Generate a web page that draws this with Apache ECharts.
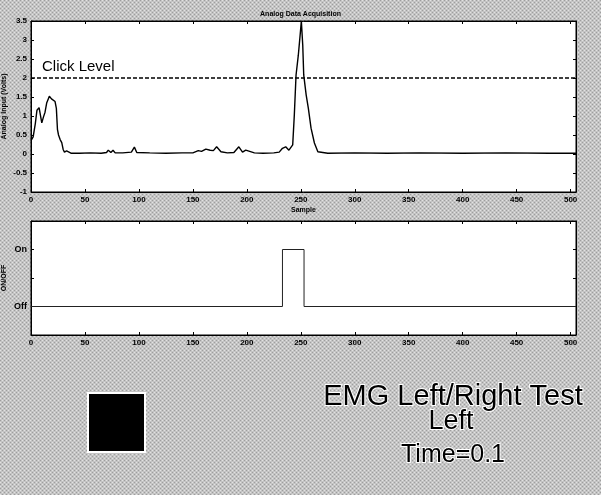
<!DOCTYPE html>
<html>
<head>
<meta charset="utf-8">
<script src="https://cdn.jsdelivr.net/npm/echarts@6/dist/echarts.min.js"></script>
<style>
  html, body { margin: 0; padding: 0; }
  #chart { width: 601px; height: 495px; }
</style>
</head>
<body>
<div id="chart"></div>
<script>
// analog input (sample, volts)
const sampleX = [0, 2, 4, 5.5, 7.5, 10, 11.5, 13, 14.6, 16, 17, 18, 19, 20.8, 22.3, 23.5, 24.5, 25.5, 27, 28.5,
  29.8, 31, 33, 34.5, 37, 45, 55, 65, 70, 71.6, 74, 76, 78, 85, 93, 95.8, 98, 110, 125, 140,
  150, 155, 158, 162, 166, 169, 172, 176, 182, 188, 192.6, 196, 199, 207, 215, 225, 230, 233, 236, 239,
  242.5, 244, 245.6, 247.7, 249.6, 250.5, 251.8, 252.7, 255, 257, 259.5, 262.6, 265.8, 275, 300, 330, 360, 400, 440, 480, 505];
const volts = [0.35, 0.45, 0.8, 1.15, 1.22, 0.82, 0.97, 1.1, 1.35, 1.45, 1.52, 1.5, 1.45, 1.5, 1.38, 1.2, 0.65, 0.5, 0.38, 0.3,
  0.12, 0.05, 0.08, 0.06, 0.02, 0.02, 0.03, 0.02, 0.04, 0.1, 0.04, 0.1, 0.03, 0.03, 0.05, 0.18, 0.04, 0.03, 0.02, 0.03,
  0.03, 0.09, 0.07, 0.13, 0.1, 0.09, 0.19, 0.06, 0.03, 0.04, 0.19, 0.05, 0.1, 0.03, 0.02, 0.03, 0.05, 0.15, 0.19, 0.1,
  0.24, 1.03, 2.08, 2.6, 3.2, 3.5, 2.87, 2.08, 1.55, 1.2, 0.68, 0.29, 0.06, 0.02, 0.03, 0.02, 0.03, 0.02, 0.03, 0.02, 0.02];
const clickLevel = 2;

// on/off state
const stateX = [0, 233, 233, 253, 253, 505];
const stateY = [0, 0, 1, 1, 0, 0];
const stateLabels = { '0': 'Off', '1': 'On' };

const xMax = 505;

// grainy grey backdrop like the scan
const pat = document.createElement('canvas');
pat.width = 4; pat.height = 4;
const pc = pat.getContext('2d');
pc.fillStyle = '#c4c4c4'; pc.fillRect(0, 0, 4, 4);
pc.fillStyle = '#9e9e9e'; pc.fillRect(0, 0, 1, 1); pc.fillRect(2, 2, 1, 1);
pc.fillStyle = '#e2e2e2'; pc.fillRect(2, 0, 1, 1); pc.fillRect(0, 2, 1, 1);

const chart = echarts.init(document.getElementById('chart'), null, { renderer: 'canvas' });

const font = 'Arial, "Liberation Sans", sans-serif';
const lbl = { color: '#000', fontSize: 8, fontFamily: font, fontWeight: 'bold' };
const nameStyle = { fontSize: 7, fontWeight: 'bold', color: '#000', fontFamily: font };
const tick = { show: true, inside: true, length: 3, lineStyle: { color: '#000' } };
const line = { show: true, onZero: false, lineStyle: { color: '#000', width: 1 } };

function xAx(grid, pos, labels) {
  return {
    type: 'value', gridIndex: grid, position: pos, min: 0, max: xMax, interval: 50,
    axisLine: line, axisTick: tick, splitLine: { show: false },
    axisLabel: labels ? Object.assign({ margin: 4, showMaxLabel: false }, lbl) : { show: false }
  };
}

let option = {
  backgroundColor: { image: pat, repeat: 'repeat' },
  animation: false,
  title: {
    text: 'Analog Data Acquisition', left: 'center', top: 6,
    textStyle: nameStyle
  },
  grid: [
    { left: 31, top: 21, right: 25, height: 171, show: true, backgroundColor: '#fff', borderColor: '#000', borderWidth: 1,
      containLabel: false, outerBoundsMode: 'none' },
    { left: 31, top: 221, right: 25, height: 114, show: true, backgroundColor: '#fff', borderColor: '#000', borderWidth: 1,
      containLabel: false, outerBoundsMode: 'none' }
  ],
  xAxis: [
    Object.assign(xAx(0, 'bottom', true), {
      name: 'Sample', nameLocation: 'middle', nameGap: 15, nameMoveOverlap: false, nameTextStyle: nameStyle
    }),
    xAx(0, 'top', false),
    xAx(1, 'bottom', true),
    xAx(1, 'top', false)
  ],
  yAxis: [
    {
      type: 'value', gridIndex: 0, position: 'left', min: -1, max: 3.5, interval: 0.5,
      axisLine: line, axisTick: tick, splitLine: { show: false },
      axisLabel: Object.assign({ margin: 4 }, lbl),
      name: 'Analog Input (Volts)', nameLocation: 'middle', nameGap: 23, nameMoveOverlap: false,
      nameTextStyle: nameStyle
    },
    {
      type: 'value', gridIndex: 0, position: 'right', min: -1, max: 3.5, interval: 0.5,
      axisLine: line, axisTick: tick, splitLine: { show: false }, axisLabel: { show: false }
    },
    {
      type: 'value', gridIndex: 1, position: 'left', min: -0.5, max: 1.5, interval: 0.5,
      axisLine: line, splitLine: { show: false }, axisTick: tick,
      axisLabel: Object.assign({ margin: 4, formatter: function (v) { return stateLabels[String(v)] || ''; } }, lbl, { fontSize: 9 }),
      name: 'ON/OFF', nameLocation: 'middle', nameGap: 23, nameMoveOverlap: false,
      nameTextStyle: nameStyle
    },
    {
      type: 'value', gridIndex: 1, position: 'right', min: -0.5, max: 1.5, interval: 0.5,
      axisLine: line, axisTick: tick, splitLine: { show: false }, axisLabel: { show: false }
    }
  ],
  series: [
    {
      type: 'line', xAxisIndex: 0, yAxisIndex: 0, showSymbol: false,
      data: sampleX.map((x, i) => [x, volts[i]]),
      lineStyle: { color: '#000', width: 1.4 },
      markLine: {
        silent: true, symbol: 'none', label: { show: false },
        lineStyle: { color: '#000', type: [4, 2], width: 1.5 },
        data: [{ yAxis: clickLevel }]
      }
    },
    {
      type: 'line', xAxisIndex: 2, yAxisIndex: 2, showSymbol: false,
      data: stateX.map((x, i) => [x, stateY[i]]),
      lineStyle: { color: '#222', width: 1 }
    }
  ],
  graphic: [
    { type: 'text', left: 42, top: 59, style: { text: 'Click Level', font: '15px ' + font, fill: '#000' } },
    { type: 'rect', shape: { x: 88, y: 393, width: 57, height: 59 }, style: { fill: '#000', stroke: '#fff', lineWidth: 2 } },
    { type: 'text', x: 453, y: 397, style: { text: 'EMG Left/Right Test', font: '29px ' + font, fill: '#000', align: 'center', verticalAlign: 'middle', stroke: '#fff', lineWidth: 2 } },
    { type: 'text', x: 451, y: 422, style: { text: 'Left', font: '27px ' + font, fill: '#000', align: 'center', verticalAlign: 'middle', stroke: '#fff', lineWidth: 2 } },
    { type: 'text', x: 453, y: 455, style: { text: 'Time=0.1', font: '25px ' + font, fill: '#000', align: 'center', verticalAlign: 'middle', stroke: '#fff', lineWidth: 2 } }
  ]
};

chart.setOption(option);
</script>
</body>
</html>
